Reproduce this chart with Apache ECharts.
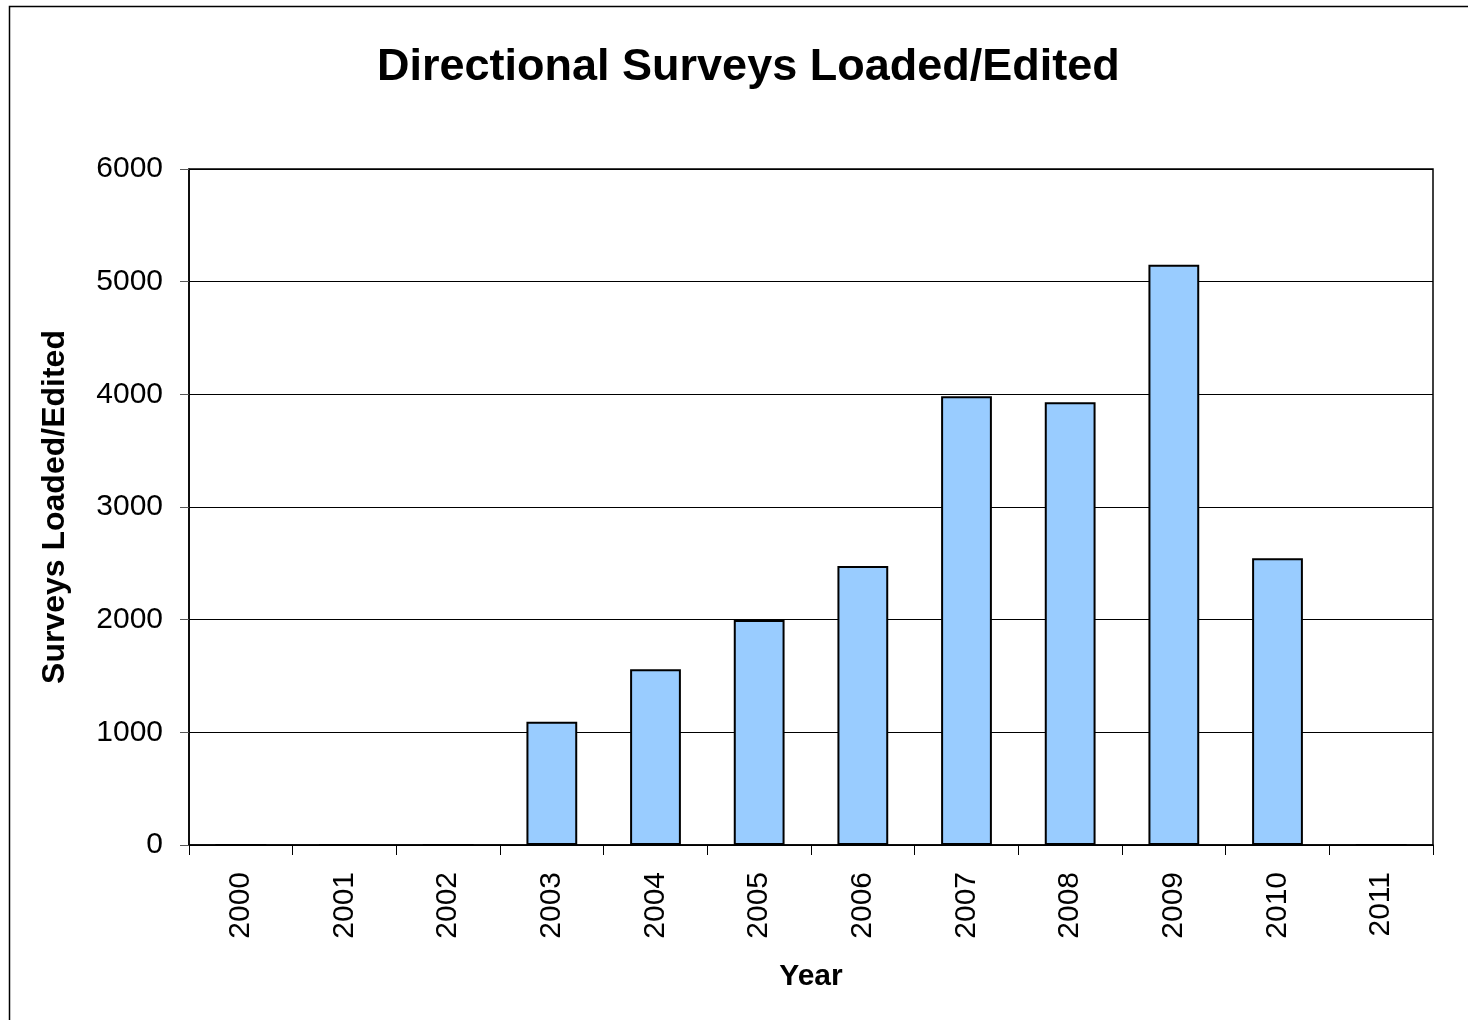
<!DOCTYPE html>
<html>
<head>
<meta charset="utf-8">
<style>
html,body{margin:0;padding:0;background:#fff;}
#chart{width:1468px;height:1020px;}
</style>
<script src="https://cdn.jsdelivr.net/npm/echarts@6/dist/echarts.min.js"></script>
</head>
<body>
<div id="chart"></div>
<script>
var years = ['2000','2001','2002','2003','2004','2005','2006','2007','2008','2009','2010','2011'];
var surveys = [0, 0, 0, 1094, 1560, 1997, 2476, 3982, 3930, 5150, 2545, 0];
var yTicks = [0, 1000, 2000, 3000, 4000, 5000, 6000];

var chart = echarts.init(document.getElementById('chart'));
var font = '"Liberation Sans", Arial, sans-serif';
chart.setOption({
  backgroundColor: '#fff',
  animation: false,
  title: {
    text: 'Directional Surveys Loaded/Edited',
    left: 372,
    top: 40,
    textStyle: {fontFamily: font, fontSize: 45, fontWeight: 'bold', color: '#000'}
  },
  graphic: [{
    type: 'rect',
    shape: {x: 9.5, y: 6.5, width: 1500, height: 1100},
    style: {fill: 'none', stroke: '#000', lineWidth: 1.5},
    silent: true
  }],
  grid: {
    left: 189, top: 169, right: 35, bottom: 175,
    show: true, borderColor: '#000', borderWidth: 1.5, backgroundColor: '#fff'
  },
  xAxis: {
    type: 'category',
    data: years,
    boundaryGap: true,
    name: 'Year',
    nameLocation: 'middle',
    nameGap: 117,
    nameTextStyle: {fontFamily: font, fontSize: 30, fontWeight: 'bold', color: '#000'},
    axisLine: {show: true, lineStyle: {color: '#000', width: 1.5}},
    axisTick: {show: true, alignWithLabel: false, length: 10, lineStyle: {color: '#000', width: 1}},
    axisLabel: {rotate: 90, margin: 27, fontFamily: font, fontSize: 30, color: '#000', interval: 0},
    splitLine: {show: false}
  },
  yAxis: {
    type: 'value',
    min: 0, max: 6000, interval: 1000,
    name: 'Surveys Loaded/Edited',
    nameLocation: 'middle',
    nameGap: 118,
    nameRotate: 90,
    nameTextStyle: {fontFamily: font, fontSize: 32, fontWeight: 'bold', color: '#000'},
    axisLine: {show: true, lineStyle: {color: '#000', width: 1.5}},
    axisTick: {show: true, inside: false, length: 9, lineStyle: {color: '#555', width: 1}},
    axisLabel: {
      margin: 26, fontFamily: font, fontSize: 30, color: '#000',
      formatter: function (v) { return yTicks.indexOf(v) >= 0 ? String(v) : ''; }
    },
    splitLine: {show: true, lineStyle: {color: '#000', width: 1}}
  },
  series: [{
    type: 'bar',
    data: surveys,
    barWidth: '49%',
    itemStyle: {color: '#99CCFF', borderColor: '#000', borderWidth: 2}
  }]
});
</script>
</body>
</html>
